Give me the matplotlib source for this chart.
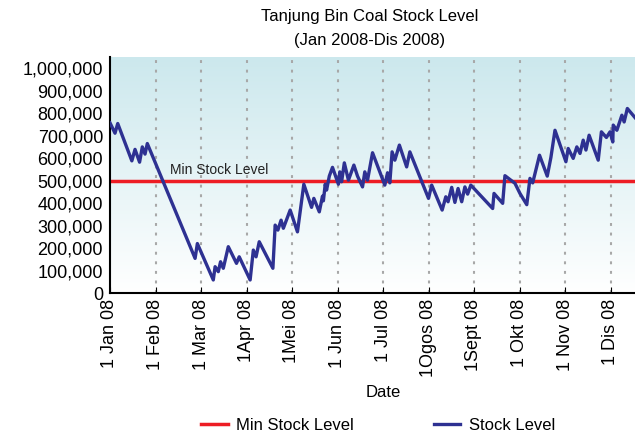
import numpy as np
import matplotlib
matplotlib.use("Agg")
import matplotlib.pyplot as plt
from matplotlib.ticker import FuncFormatter

plt.rcParams['font.family'] = ['Liberation Sans', 'DejaVu Sans']

# month position (0 = 1 Jan 08, 1 = 1 Feb 08, ...) and stock level (tonnes)
month_pos = [
    0.00, 0.11, 0.17, 0.48, 0.55, 0.65, 0.71, 0.77, 0.82, 1.87, 1.92, 2.27,
    2.31, 2.38, 2.43, 2.49, 2.60, 2.78, 2.84, 3.08, 3.15, 3.21, 3.28, 3.58,
    3.63, 3.69, 3.76, 3.81, 3.96, 4.12, 4.26, 4.43, 4.48, 4.60, 4.67, 4.69,
    4.73, 4.76, 4.82, 4.89, 5.02, 5.05, 5.09, 5.15, 5.24, 5.36, 5.44, 5.55,
    5.60, 5.66, 5.77, 6.04, 6.10, 6.15, 6.20, 6.26, 6.36, 6.52, 6.59, 7.00,
    7.07, 7.30, 7.38, 7.43, 7.51, 7.58, 7.65, 7.73, 7.80, 7.86, 7.93, 8.41,
    8.44, 8.63, 8.68, 8.90, 9.01, 9.16, 9.23, 9.29, 9.44, 9.61, 9.69, 9.78,
    10.02, 10.07, 10.18, 10.26, 10.33, 10.40, 10.46, 10.53, 10.73, 10.80,
    10.91, 10.99, 11.05, 11.06, 11.14, 11.25, 11.30, 11.37, 11.54,
]
stock_level = [
    757000, 711000, 754000, 588000, 639000, 582000, 650000, 618000, 665000,
    154000, 220000, 58000, 117000, 95000, 139000, 110000, 206000, 132000,
    161000, 58000, 191000, 161000, 228000, 110000, 302000, 280000, 324000,
    288000, 369000, 272000, 484000, 381000, 421000, 361000, 431000, 410000,
    484000, 458000, 520000, 559000, 484000, 539000, 495000, 579000, 502000,
    569000, 520000, 472000, 539000, 502000, 624000, 480000, 535000, 490000,
    628000, 591000, 658000, 561000, 628000, 421000, 480000, 369000, 428000,
    406000, 470000, 403000, 465000, 406000, 472000, 440000, 480000, 376000,
    443000, 399000, 522000, 488000, 443000, 393000, 510000, 490000, 613000,
    520000, 603000, 724000, 584000, 643000, 599000, 650000, 621000, 680000,
    636000, 702000, 591000, 717000, 692000, 717000, 672000, 747000, 724000,
    791000, 761000, 821000, 780000,
]
min_stock = 500000

month_labels = ['1 Jan 08', '1 Feb 08', '1 Mar 08', '1Apr 08', '1Mei 08',
                '1 Jun 08', '1 Jul 08', '1Ogos 08', '1Sept 08', '1 Okt 08',
                '1 Nov 08', '1 Dis 08']

fig = plt.figure(figsize=(6.35, 4.36), dpi=100)
# axes run past the right edge (original chart is cropped there)
ax = fig.add_axes([110 / 635, 143 / 436, 546 / 635, 236 / 436])

xmax, ymax = 12, 1050000
ax.set_xlim(0, xmax)
ax.set_ylim(0, ymax)

# light teal -> white background gradient
grad = np.linspace(1, 0, 256).reshape(-1, 1)
top = np.array([0.80, 0.91, 0.93])
bottom = np.array([1.0, 1.0, 1.0])
img = grad[..., None] * top + (1 - grad[..., None]) * bottom
ax.imshow(img, extent=[0, xmax, 0, ymax], aspect='auto', zorder=0,
          origin='upper')

for i in range(1, len(month_labels)):
    ax.axvline(i, color='#a8a8a8', lw=1.5, ls=(0, (1.4, 3.2)), zorder=1)

ax.axhline(min_stock, color='#ed1c24', lw=2.5, zorder=2, label='Min Stock Level')
ax.plot(month_pos, stock_level, color='#2e3192', lw=2.4, zorder=3,
        label='Stock Level')

ax.text(1.32, min_stock + 14000, 'Min Stock Level', fontsize=10,
        va='bottom', ha='left', color='#222222')

ax.set_xticks(range(len(month_labels)))
ax.set_xticklabels(month_labels, rotation=90, fontsize=13)
ax.set_yticks(np.arange(0, 1000001, 100000))
ax.yaxis.set_major_formatter(FuncFormatter(lambda v, p: f'{int(v):,}'))
ax.tick_params(axis='y', length=0, labelsize=13, pad=5)
ax.tick_params(axis='x', direction='in', length=4, pad=4)

for side in ['top', 'right']:
    ax.spines[side].set_visible(False)
ax.spines['left'].set_linewidth(1.5)
ax.spines['bottom'].set_linewidth(1.5)

ax.set_xlabel('Date', fontsize=12, labelpad=6)

fig.text(370 / 635, 1 - 17 / 436, 'Tanjung Bin Coal Stock Level',
         ha='center', va='center', fontsize=12)
fig.text(370 / 635, 1 - 40 / 436, '(Jan 2008-Dis 2008)',
         ha='center', va='center', fontsize=12)

handles, labels = ax.get_legend_handles_labels()
fig.legend(handles, labels, loc='center', ncol=2, frameon=False,
           bbox_to_anchor=(378 / 635, 1 - 425 / 436), fontsize=12,
           handlelength=1.6, handletextpad=0.5, columnspacing=4.8)

fig.savefig('out.png', dpi=100)
